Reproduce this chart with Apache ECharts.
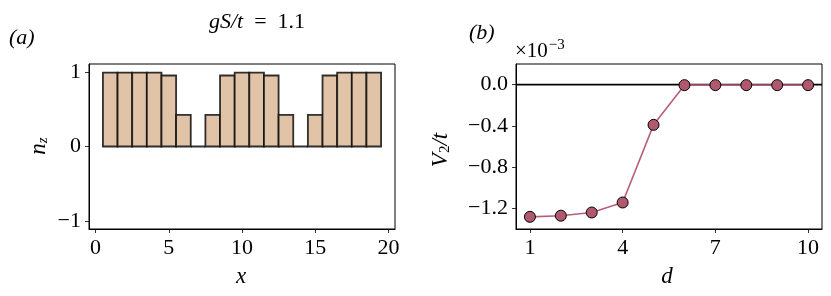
<!DOCTYPE html>
<html><head><meta charset="utf-8">
<script src="https://cdn.jsdelivr.net/npm/echarts@6/dist/echarts.min.js"></script>
<style>html,body{margin:0;padding:0;background:#fff}#c{width:831px;height:296px}</style>
</head><body><div id="c"></div>
<script>
const xSites = [1,2,3,4,5,6,7,8,9,10,11,12,13,14,15,16,17,18,19];
const nzValues = [0.995,0.995,0.995,0.995,0.955,0.425,0,0.425,0.955,0.995,0.995,0.955,0.425,0,0.425,0.955,0.995,0.995,0.995];
const dValues = [1,2,3,4,5,6,7,8,9,10];
const v2Values = [-1.282,-1.271,-1.240,-1.143,-0.390,-0.005,-0.005,-0.005,-0.005,-0.005];
const xTicksA = [0,5,10,15,20];
const yTicksA = [-1,0,1];
const xTicksB = [1,4,7,10];
const yTicksB = [-1.2,-0.8,-0.4,0.0];

const FONT = '"Liberation Serif", serif';
const chart = echarts.init(document.getElementById('c'), null, {renderer:'canvas'});
const fmtMinus = v => (v < 0 ? '\u2212' : '') + Math.abs(v);
const tickStyle = {show:true, inside:false, length:4, lineStyle:{color:'#000', width:0.8}};
const lineStyleAx = {show:true, onZero:false, lineStyle:{color:'#000', width:1}};
function lbl(vals, fmt){
  return {customValues:vals, fontFamily:FONT, fontSize:22, color:'#000', margin:8, formatter:fmt};
}
const option = {
  animation:false,
  grid:[
    {left:89, top:64, width:306, height:165, show:true, borderColor:'#000', borderWidth:1, backgroundColor:'transparent'},
    {left:516, top:64, width:306, height:165, show:true, borderColor:'#000', borderWidth:1, backgroundColor:'transparent'}
  ],
  xAxis:[
    {gridIndex:0, type:'value', min:-0.45, max:20.45, axisLine:lineStyleAx, splitLine:{show:false},
      axisTick:Object.assign({customValues:xTicksA}, tickStyle), axisLabel:lbl(xTicksA, v=>fmtMinus(v))},
    {gridIndex:1, type:'value', min:0.55, max:10.45, axisLine:lineStyleAx, splitLine:{show:false},
      axisTick:Object.assign({customValues:xTicksB}, tickStyle), axisLabel:lbl(xTicksB, v=>fmtMinus(v))}
  ],
  yAxis:[
    {gridIndex:0, type:'value', min:-1.11, max:1.11, axisLine:lineStyleAx, splitLine:{show:false},
      axisTick:Object.assign({customValues:yTicksA}, tickStyle), axisLabel:lbl(yTicksA, v=>fmtMinus(v))},
    {gridIndex:1, type:'value', min:-1.4, max:0.2, axisLine:lineStyleAx, splitLine:{show:false},
      axisTick:Object.assign({customValues:yTicksB}, tickStyle),
      axisLabel:lbl(yTicksB, v=>(v < -1e-9 ? '\u2212' : '') + Math.abs(v).toFixed(1))}
  ],
  series:[
    {type:'custom', xAxisIndex:0, yAxisIndex:0, clip:true,
      data: xSites.map((x,i)=>[x, nzValues[i]]),
      renderItem:function(params, api){
        const x = api.value(0), y = api.value(1);
        const p0 = api.coord([x-0.5, y]);
        const p1 = api.coord([x+0.5, 0]);
        return {type:'rect',
          shape:{x:p0[0], y:Math.min(p0[1],p1[1]), width:p1[0]-p0[0], height:Math.abs(p1[1]-p0[1])},
          style:{fill:'#e1c3a7', stroke:'rgba(15,15,15,0.85)', lineWidth:1.8}};
      }},
    {type:'line', xAxisIndex:1, yAxisIndex:1, z:1, symbol:'none', silent:true,
      data:[[0.55,0],[10.45,0]], lineStyle:{color:'#000', width:1.7}},
    {type:'line', xAxisIndex:1, yAxisIndex:1, z:3,
      data: dValues.map((d,i)=>[d, v2Values[i]]),
      lineStyle:{color:'#b65f79', width:1.6},
      symbol:'circle', symbolSize:11,
      itemStyle:{color:'#b0586e', borderColor:'#000', borderWidth:1}}
  ],
  graphic:[
    {type:'text', x:9, y:38, style:{text:'(a)', verticalAlign:'middle', font:'italic 22px '+FONT, fill:'#000'}},
    {type:'text', x:469, y:33, style:{text:'(b)', verticalAlign:'middle', font:'italic 22px '+FONT, fill:'#000'}},
    {type:'text', x:257, y:22, style:{text:'{i|gS/t}  =  1.1', align:'center', verticalAlign:'middle',
      font:'22px '+FONT, fill:'#000',
      rich:{i:{fontFamily:FONT, fontStyle:'italic', fontSize:22, fill:'#000'}}}},
    {type:'text', x:515, y:51, style:{text:'\u00d710{s|\u22123}', verticalAlign:'middle', font:'21px '+FONT, fill:'#000',
      rich:{s:{fontFamily:FONT, fontSize:15, verticalAlign:'top', padding:[0,0,12,1]}}}},
    {type:'text', x:241, y:277, style:{text:'x', align:'center', verticalAlign:'middle', font:'italic 23px '+FONT, fill:'#000'}},
    {type:'text', x:667, y:277, style:{text:'d', align:'center', verticalAlign:'middle', font:'italic 23px '+FONT, fill:'#000'}},
    {type:'text', x:39, y:146, rotation:Math.PI/2, style:{text:'n{s|z}', align:'center', verticalAlign:'middle',
      font:'italic 23px '+FONT, fill:'#000', rich:{s:{fontFamily:FONT, fontStyle:'italic', fontSize:15, padding:[9,0,0,0]}}}},
    {type:'text', x:441, y:150, rotation:Math.PI/2, style:{text:'V{s|2}/t', align:'center', verticalAlign:'middle',
      font:'italic 23px '+FONT, fill:'#000', rich:{s:{fontFamily:FONT, fontSize:15, padding:[9,0,0,0]}}}}
  ]
};
chart.setOption(option);
</script></body></html>
